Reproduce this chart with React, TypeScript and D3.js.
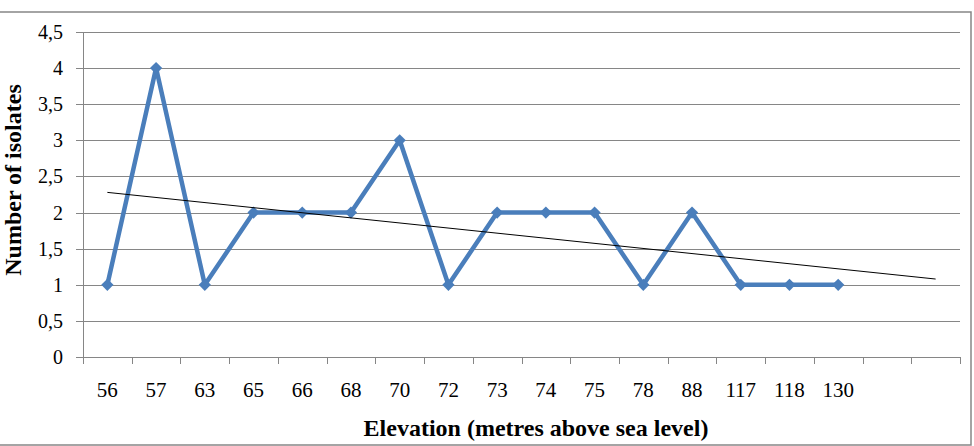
import * as d3 from 'd3';
import { useEffect, useRef } from 'react';

// elevation categories (metres above sea level) and isolate counts
const elevations = ['56', '57', '63', '65', '66', '68', '70', '72', '73', '74', '75', '78', '88', '117', '118', '130'];
const isolates = [1, 4, 1, 2, 2, 2, 3, 1, 2, 2, 2, 1, 2, 1, 1, 1];
const yTicks = [0, 0.5, 1, 1.5, 2, 2.5, 3, 3.5, 4, 4.5];
// trend line is forecast two categories past the last point
const forecastSlots = 2;

export default function App() {
    const ref = useRef<HTMLDivElement>(null);

    useEffect(() => {
        const width = 974;
        const height = 446;
        const margin = { top: 32, right: 14, bottom: 89, left: 83 };
        const gridColor = '#868686';
        const lineColor = '#4A7EBB';
        const font = 'Liberation Serif, Times New Roman, serif';

        const el = ref.current!;
        el.innerHTML = '';

        const svg = d3
            .select(el)
            .append('svg')
            .attr('width', width)
            .attr('height', height)
            .style('display', 'block')
            .style('font-family', font);

        // chart border
        svg.append('rect')
            .attr('x', -1)
            .attr('y', 12)
            .attr('width', 972)
            .attr('height', 433)
            .attr('fill', 'white')
            .attr('stroke', gridColor)
            .attr('stroke-width', 1.5);

        const slots = d3.range(elevations.length + forecastSlots);
        const x = d3
            .scaleBand<number>()
            .domain(slots)
            .range([margin.left, width - margin.right]);
        const cx = (i: number) => x(i)! + x.bandwidth() / 2;

        const y = d3
            .scaleLinear()
            .domain([0, 4.5])
            .range([height - margin.bottom, margin.top]);

        // horizontal gridlines with outward ticks
        svg.append('g')
            .selectAll('line')
            .data(yTicks)
            .join('line')
            .attr('x1', margin.left - 7)
            .attr('x2', width - margin.right)
            .attr('y1', d => Math.round(y(d)) + 0.5)
            .attr('y2', d => Math.round(y(d)) + 0.5)
            .attr('stroke', gridColor)
            .attr('stroke-width', 1);

        svg.append('g')
            .selectAll('text')
            .data(yTicks)
            .join('text')
            .attr('x', 63)
            .attr('y', d => y(d) + 7)
            .attr('text-anchor', 'end')
            .attr('font-size', 20)
            .attr('fill', '#000')
            .text(d => String(d).replace('.', ','));

        // vertical axis line
        svg.append('line')
            .attr('x1', margin.left + 0.5)
            .attr('x2', margin.left + 0.5)
            .attr('y1', y(4.5))
            .attr('y2', y(0) + 7)
            .attr('stroke', gridColor);

        // category tick marks at slot boundaries
        const bounds = [...slots.map(i => x(i)!), x(slots.length - 1)! + x.bandwidth()];
        svg.append('g')
            .selectAll('line')
            .data(bounds)
            .join('line')
            .attr('x1', d => Math.round(d) + 0.5)
            .attr('x2', d => Math.round(d) + 0.5)
            .attr('y1', y(0))
            .attr('y2', y(0) + 7)
            .attr('stroke', gridColor);

        svg.append('g')
            .selectAll('text')
            .data(elevations)
            .join('text')
            .attr('x', (_, i) => cx(i))
            .attr('y', 397)
            .attr('text-anchor', 'middle')
            .attr('font-size', 21)
            .attr('fill', '#000')
            .text(d => d);

        // data line and diamond markers
        const line = d3
            .line<number>()
            .x((_, i) => cx(i))
            .y(d => y(d));

        svg.append('path')
            .datum(isolates)
            .attr('d', line)
            .attr('fill', 'none')
            .attr('stroke', lineColor)
            .attr('stroke-width', 4.5)
            .attr('stroke-linejoin', 'round');

        const diamond = d3.symbol().type(d3.symbolDiamond2).size(95);
        svg.append('g')
            .selectAll('path')
            .data(isolates)
            .join('path')
            .attr('d', diamond)
            .attr('transform', (d, i) => `translate(${cx(i)},${y(d)})`)
            .attr('fill', lineColor);

        // linear trend (least squares over category index 1..n)
        const xs = isolates.map((_, i) => i + 1);
        const mx = d3.mean(xs)!;
        const my = d3.mean(isolates)!;
        const slope =
            d3.sum(xs, (v, i) => (v - mx) * (isolates[i] - my)) /
            d3.sum(xs, v => (v - mx) * (v - mx));
        const intercept = my - slope * mx;
        const lastIdx = slots.length - 1;

        svg.append('line')
            .attr('x1', cx(0))
            .attr('y1', y(intercept + slope * 1))
            .attr('x2', cx(lastIdx))
            .attr('y2', y(intercept + slope * (lastIdx + 1)))
            .attr('stroke', '#000')
            .attr('stroke-width', 1);

        // axis titles
        svg.append('text')
            .attr('x', 536)
            .attr('y', 436)
            .attr('text-anchor', 'middle')
            .attr('font-size', 24)
            .attr('font-weight', 'bold')
            .text('Elevation (metres above sea level)');

        svg.append('text')
            .attr('transform', 'translate(21,180) rotate(-90)')
            .attr('text-anchor', 'middle')
            .attr('font-size', 24)
            .attr('font-weight', 'bold')
            .text('Number of isolates');
    }, []);

    return <div ref={ref} style={{ position: 'absolute', left: 0, top: 0 }}></div>;
}
